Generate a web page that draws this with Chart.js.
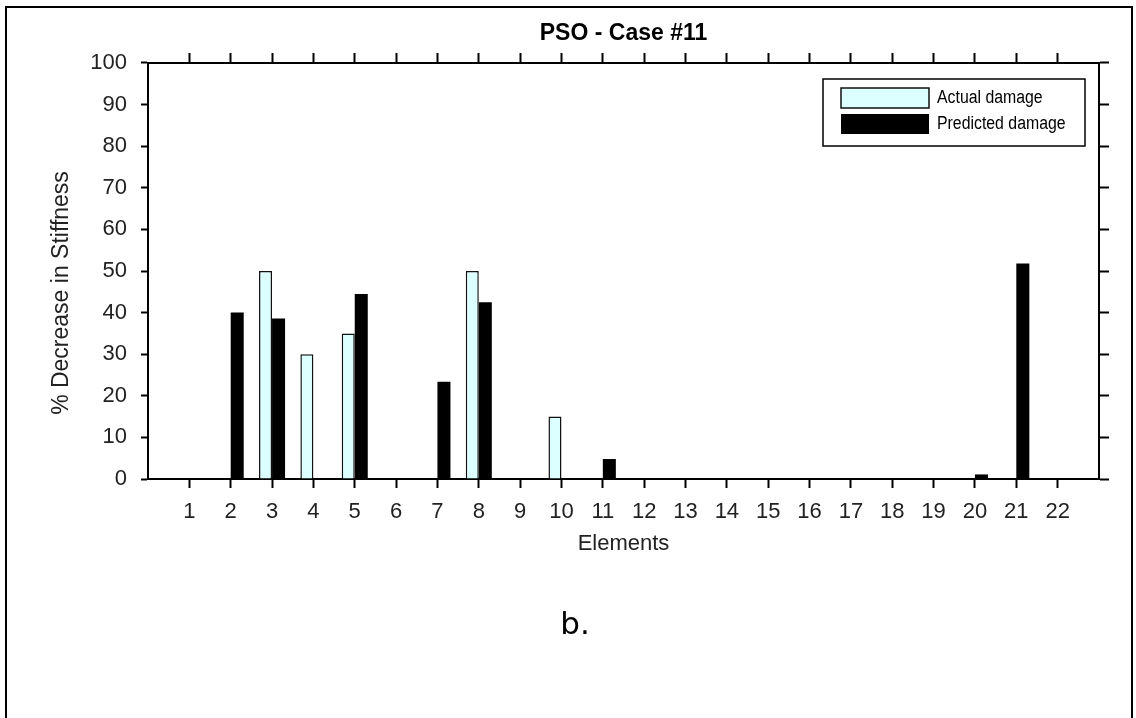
<!DOCTYPE html>
<html>
<head>
<meta charset="utf-8">
<script src="https://cdn.jsdelivr.net/npm/chart.js@4.4.1/dist/chart.umd.min.js"></script>
<style>
  html, body { margin: 0; padding: 0; background: #fff; }
  #wrap { position: relative; width: 1136px; height: 718px; overflow: hidden; background: #fff; }
  #frame { position: absolute; left: 5px; top: 6px; width: 1124px; height: 740px;
           border-left: 2px solid #000; border-top: 2px solid #000; border-right: 2px solid #000; }
  #c { position: absolute; left: 0; top: 0; }
  #caption { position: absolute; left: 475px; top: 608px; width: 200px; text-align: center;
             font-family: "DejaVu Sans", Verdana, sans-serif; font-size: 31px; line-height: 31px; color: #000; }
</style>
</head>
<body>
<div id="wrap">
  <div id="frame"></div>
  <canvas id="c" width="1136" height="718"></canvas>
  <div id="caption">b.</div>
</div>
<script>
// ---- data ----
const chartTitle = 'PSO - Case #11';
const xAxisTitle = 'Elements';
const yAxisTitle = '% Decrease in Stiffness';
const elements = ['1','2','3','4','5','6','7','8','9','10','11','12','13','14','15','16','17','18','19','20','21','22'];
const actualDamage    = [0, 0, 50, 30, 35, 0, 0,    50,   0, 15, 0,   0, 0, 0, 0, 0, 0, 0, 0, 0,   0,    0];
const predictedDamage = [0, 40, 38.6, 0, 44.5, 0, 23.4, 42.5, 0, 0, 4.8, 0, 0, 0, 0, 0, 0, 0, 0, 1.1, 51.8, 0];
const seriesNames = ['Actual damage', 'Predicted damage'];
const yMin = 0, yMax = 100, yStep = 10;

// category axis with one empty slot on each side (as in the reference)
const labels = [''].concat(elements, ['']);
const toBars = arr => [null].concat(arr.map(v => (v === 0 ? null : v)), [null]);

const FONT = '"Liberation Sans", Arial, sans-serif';

const legendPlugin = {
  id: 'boxLegend',
  afterDraw(chart) {
    const ctx = chart.ctx, a = chart.chartArea;
    const w = 262, h = 67;
    const x0 = a.right - 14 - w, y0 = a.top + 16;
    ctx.save();
    ctx.fillStyle = '#fff';
    ctx.fillRect(x0, y0, w, h);
    ctx.lineWidth = 1.5;
    ctx.strokeStyle = '#000';
    ctx.strokeRect(x0, y0, w, h);
    chart.data.datasets.forEach((ds, i) => {
      const sy = y0 + 9 + i * 26;
      ctx.fillStyle = ds.backgroundColor;
      ctx.fillRect(x0 + 18, sy, 88, 20);
      if (ds.borderWidth) {
        ctx.lineWidth = 1.5;
        ctx.strokeStyle = ds.borderColor;
        ctx.strokeRect(x0 + 18, sy, 88, 20);
      }
      ctx.save();
      ctx.translate(x0 + 114, sy + 10);
      ctx.scale(0.88, 1);
      ctx.font = '18px ' + FONT;
      ctx.textBaseline = 'middle';
      ctx.textAlign = 'left';
      ctx.fillStyle = '#000';
      ctx.fillText(ds.label, 0, 0);
      ctx.restore();
    });
    ctx.restore();
  }
};

const yTitlePlugin = {
  id: 'yTitle',
  afterDraw(chart) {
    const ctx = chart.ctx;
    ctx.save();
    ctx.translate(62, 293);
    ctx.rotate(-Math.PI / 2);
    ctx.font = '23px ' + FONT;
    ctx.fillStyle = '#222';
    ctx.textAlign = 'center';
    ctx.textBaseline = 'middle';
    ctx.fillText(yAxisTitle, 0, 0);
    ctx.restore();
  }
};

const axisGrid = (len) => ({
  display: true, drawOnChartArea: false, drawTicks: true,
  tickLength: len, tickWidth: 2, tickColor: (c) => (c.tick && c.tick.label === '' ? 'rgba(0,0,0,0)' : '#000'),
  offset: false
});

new Chart(document.getElementById('c'), {
  type: 'bar',
  data: {
    labels: labels,
    datasets: [
      { label: seriesNames[0], data: toBars(actualDamage), backgroundColor: '#dcffff',
        borderColor: '#111', borderWidth: 1.5, xAxisID: 'x', yAxisID: 'y' },
      { label: seriesNames[1], data: toBars(predictedDamage), backgroundColor: '#000',
        borderColor: '#000', borderWidth: 0, xAxisID: 'x', yAxisID: 'y' }
    ]
  },
  options: {
    responsive: false,
    animation: false,
    devicePixelRatio: 1,
    layout: { padding: 0 },
    categoryPercentage: 0.63,
    barPercentage: 1.0,
    plugins: {
      legend: { display: false },
      tooltip: { enabled: false },
      title: {
        display: true, text: chartTitle, fullSize: false, color: '#000',
        font: { family: FONT, size: 23, weight: 'bold', lineHeight: 1.2 },
        padding: { top: 20, bottom: 0 }
      }
    },
    scales: {
      x: {
        type: 'category', position: 'bottom', offset: false,
        grid: axisGrid(9),
        border: { display: true, color: '#000', width: 2 },
        ticks: { color: '#222', font: { family: FONT, size: 22 }, padding: 11, maxRotation: 0, autoSkip: false },
        title: { display: true, text: xAxisTitle, color: '#222', font: { family: FONT, size: 22, lineHeight: 1.2 },
                 padding: { top: 0, bottom: 161 } },
        afterFit: (s) => { s.height = 239; }
      },
      x2: {
        type: 'category', position: 'top', offset: false,
        grid: axisGrid(10),
        border: { display: true, color: '#000', width: 2 },
        ticks: { display: false, autoSkip: false },
        afterFit: (s) => { s.height = 15.4; }
      },
      y: {
        type: 'linear', position: 'left', min: yMin, max: yMax,
        grid: { display: true, drawOnChartArea: false, drawTicks: true, tickLength: 7, tickWidth: 2, tickColor: '#000' },
        border: { display: true, color: '#000', width: 2 },
        ticks: { stepSize: yStep, color: '#222', font: { family: FONT, size: 22 }, padding: 14 },
        afterFit: (s) => { s.width = 148; }
      },
      y2: {
        type: 'linear', position: 'right', min: yMin, max: yMax,
        grid: { display: true, drawOnChartArea: false, drawTicks: true, tickLength: 10, tickWidth: 2, tickColor: '#000' },
        border: { display: true, color: '#000', width: 2 },
        ticks: { stepSize: yStep, display: false },
        afterFit: (s) => { s.width = 37; }
      }
    }
  },
  plugins: [legendPlugin, yTitlePlugin]
});
</script>
</body>
</html>
